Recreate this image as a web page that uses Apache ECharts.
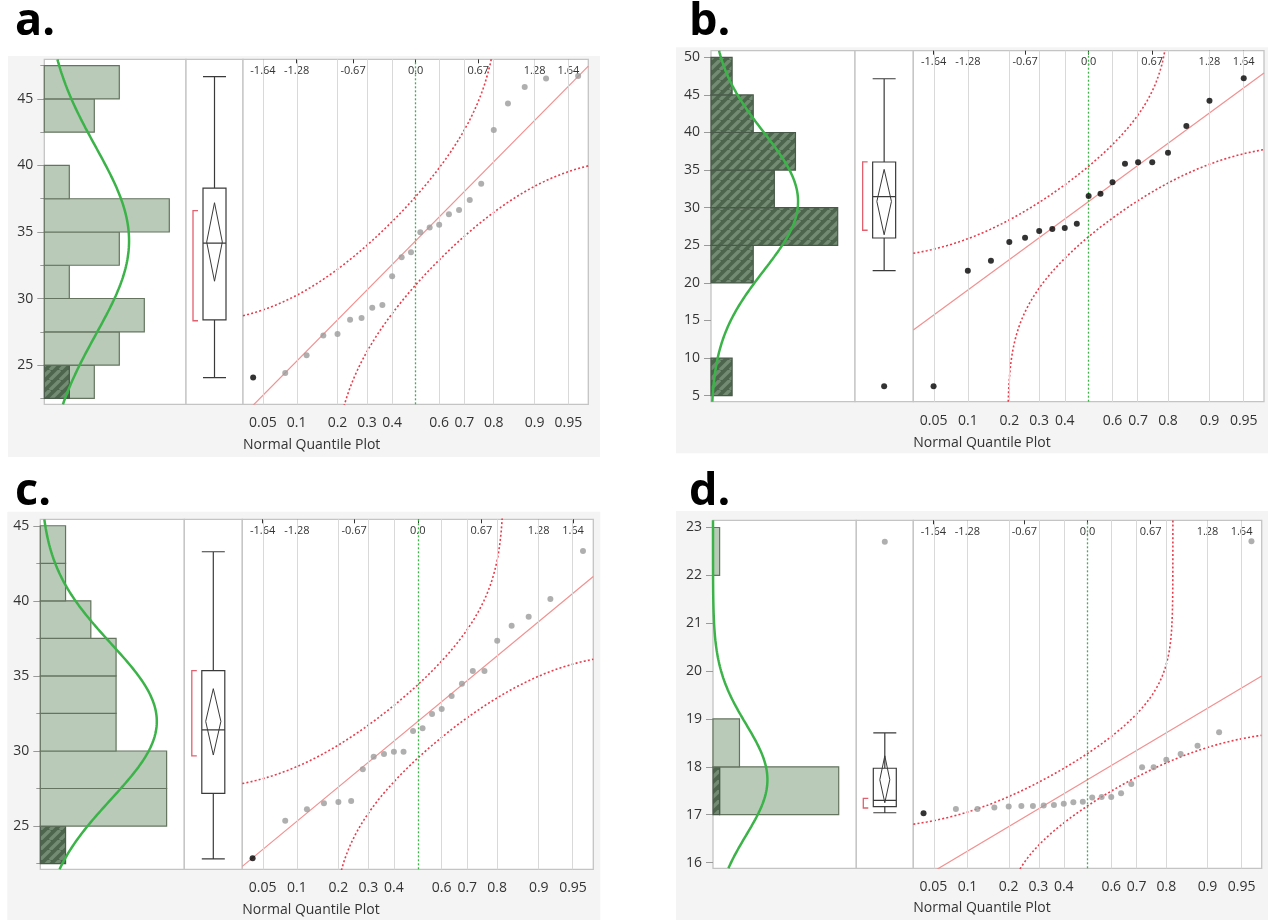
<!DOCTYPE html>
<html>
<head>
<meta charset="utf-8">
<script src="https://cdn.jsdelivr.net/npm/echarts@6/dist/echarts.min.js"></script>
<style>html,body{margin:0;padding:0;background:#fff;}#main{width:1268px;height:920px;}</style>
</head>
<body>
<div id="main"></div>
<script>
// ---------------- DATA ----------------
// shared normal-quantile positions (z) of the ranked points
const qzN24 = [-1.7507,-1.4051,-1.1750,-0.9945,-0.8416,-0.7063,-0.5828,-0.4677,-0.3585,-0.2533,-0.1510,-0.0502,
               0.0502,0.1510,0.2533,0.3585,0.4677,0.5828,0.7063,0.8416,0.9945,1.1750,1.4051,1.7507];
const qzN19 = [-1.6449,-1.2816,-1.0364,-0.8416,-0.6745,-0.5244,-0.3853,-0.2533,-0.1257,0,
               0.1257,0.2533,0.3853,0.5244,0.6745,0.8416,1.0364,1.2816,1.6449];
// bottom probability ticks and their z positions
const probLabels = ['0.05','0.1','0.2','0.3','0.4','0.6','0.7','0.8','0.9','0.95'];
const probZ = [-1.6449,-1.2816,-0.8416,-0.5244,-0.2533,0.2533,0.5244,0.8416,1.2816,1.6449];
// top normal-quantile ticks
const topLabels = ['-1.64','-1.28','-0.67','0.0','0.67','1.28','1.64'];
const topZ = [-1.6449,-1.2816,-0.6745,0,0.6745,1.2816,1.6449];

// panel a
const yRangeA = [22.05, 47.98];
const yTicksA = [25,30,35,40,45];
const yMinorA = [22.5,27.5,32.5,37.5,42.5,47.5];
const binLowA = [22.5,25,27.5,30,32.5,35,37.5,40,42.5,45];
const binWidthA = 2.5;
const binCountA = [2,3,4,1,3,5,1,0,2,3];
const binSelA = [1,0,0,0,0,0,0,0,0,0];
const qyA = [24.07,24.4,25.73,27.23,27.33,28.41,28.53,29.31,29.51,31.67,33.1,33.47,34.98,35.33,35.55,36.33,36.65,37.41,38.63,42.67,44.65,45.9,46.53,46.73];
const qSelA = [1,0,0,0,0,0,0,0,0,0,0,0,0,0,0,0,0,0,0,0,0,0,0,0];
const boxA = [24.05,28.4,34.17,38.3,46.68];
const outlierA = [];
const outlierSelA = [];
const diamondA = [31.3,34.25,37.2];
const bracketA = [28.33,36.6];
const fitA = [34.34,7.06];   // mean, sd
const bandA = 0.181;

// panel b
const yRangeB = [4.2, 50.88];
const yTicksB = [5,10,15,20,25,30,35,40,45,50];
const yMinorB = [];
const binLowB = [5,10,15,20,25,30,35,40,45];
const binWidthB = 5;
const binCountB = [1,0,0,2,6,3,4,2,1];
const binSelB = [1,0,0,2,6,3,4,2,1];
const qyB = [6.25,21.6,22.96,25.44,26.0,26.9,27.17,27.3,27.87,31.56,31.86,33.37,35.85,36.04,36.04,37.3,40.86,44.23,47.2];
const qSelB = [1,1,1,1,1,1,1,1,1,1,1,1,1,1,1,1,1,1,1];
const boxB = [21.62,25.97,31.46,36.08,47.15];
const outlierB = [6.25];
const outlierSelB = [1];
const diamondB = [26.4,30.83,35.1];
const bracketB = [27.0,36.1];
const fitB = [30.83,9.19];
const bandB = 0.195;

// panel c
const yRangeC = [22.12, 45.43];
const yTicksC = [25,30,35,40,45];
const yMinorC = [22.5,27.5,32.5,37.5,42.5];
const binLowC = [22.5,25,27.5,30,32.5,35,37.5,40,42.5];
const binWidthC = 2.5;
const binCountC = [1,5,5,3,3,3,2,1,1];
const binSelC = [1,0,0,0,0,0,0,0,0];
const qyC = [22.86,25.36,26.12,26.52,26.6,26.67,28.78,29.62,29.8,29.95,29.95,31.33,31.51,32.46,32.8,33.66,34.48,35.33,35.33,37.34,38.34,38.94,40.12,43.32];
const qSelC = [1,0,0,0,0,0,0,0,0,0,0,0,0,0,0,0,0,0,0,0,0,0,0,0];
const boxC = [22.81,27.18,31.4,35.35,43.27];
const outlierC = [];
const outlierSelC = [];
const diamondC = [29.73,31.97,34.15];
const bracketC = [29.67,35.35];
const fitC = [31.97,5.19];
const bandC = 0.181;

// panel d
const yRangeD = [15.88, 23.15];
const yTicksD = [16,17,18,19,20,21,22,23];
const yMinorD = [];
const binLowD = [17,18,22];
const binWidthD = 1;
const binCountD = [19,4,1];
const binSelD = [1,0,0];
const qyD = [17.03,17.12,17.12,17.15,17.17,17.18,17.18,17.19,17.2,17.23,17.26,17.27,17.36,17.37,17.37,17.45,17.64,17.99,17.99,18.15,18.27,18.44,18.72,22.71];
const qSelD = [1,0,0,0,0,0,0,0,0,0,0,0,0,0,0,0,0,0,0,0,0,0,0,0];
const boxD = [17.04,17.17,17.30,17.97,18.71];
const outlierD = [22.7];
const outlierSelD = [0];
const diamondD = [17.25,17.73,18.23];
const bracketD = [17.14,17.34];
const fitD = [17.73,1.164];
const bandD = 0.181;

// ---------------- LAYOUT ----------------
const FONT = "'Open Sans', 'Noto Sans', sans-serif";
const Z_MIN = -1.86, Z_MAX = 1.86;
const layouts = {
  a:{bg:[8,56,592,401], top:59.3, height:345, hist:[44.3,141.7], box:[186,57], qq:[243,345.3], histMax:5.668, label:[15,22], nqp:[243,445], dhw:7.8},
  b:{bg:[676,47.3,592,406], top:50.7, height:351, hist:[711,144], box:[855,58.3], qq:[913.3,350.7], histMax:6.82, label:[689,22], nqp:[913.3,442.7], dhw:7.3},
  c:{bg:[7.3,511.7,593,408.3], top:519.3, height:350, hist:[40.3,144], box:[184.3,58], qq:[242.3,351], histMax:5.70, label:[15,492], nqp:[242.3,910], dhw:7.6},
  d:{bg:[676,511,592,409], top:520.3, height:348, hist:[713,143.3], box:[856.3,57], qq:[913.3,348.4], histMax:21.66, label:[689,492], nqp:[913.3,908.3], dhw:5}
};

// ---------------- MATH ----------------
function erf(x){const s=x<0?-1:1;x=Math.abs(x);const t=1/(1+0.3275911*x);
  const y=1-(((((1.061405429*t-1.453152027)*t)+1.421413741)*t-0.284496736)*t+0.254829592)*t*Math.exp(-x*x);return s*y;}
function Phi(z){return 0.5*(1+erf(z/Math.SQRT2));}
function invPhi(p){
  const a=[-3.969683028665376e+01,2.209460984245205e+02,-2.759285104469687e+02,1.383577518672690e+02,-3.066479806614716e+01,2.506628277459239e+00];
  const b=[-5.447609879822406e+01,1.615858368580409e+02,-1.556989798598866e+02,6.680131188771972e+01,-1.328068155288572e+01];
  const c=[-7.784894002430293e-03,-3.223964580411365e-01,-2.400758277161838e+00,-2.549732539343734e+00,4.374664141464968e+00,2.938163982698783e+00];
  const d=[7.784695709041462e-03,3.224671290700398e-01,2.445134137142996e+00,3.754408661907416e+00];
  const pl=0.02425;let q,r;
  if(p<pl){q=Math.sqrt(-2*Math.log(p));return (((((c[0]*q+c[1])*q+c[2])*q+c[3])*q+c[4])*q+c[5])/((((d[0]*q+d[1])*q+d[2])*q+d[3])*q+1);}
  if(p<=1-pl){q=p-0.5;r=q*q;return (((((a[0]*r+a[1])*r+a[2])*r+a[3])*r+a[4])*r+a[5])*q/(((((b[0]*r+b[1])*r+b[2])*r+b[3])*r+b[4])*r+1);}
  q=Math.sqrt(-2*Math.log(1-p));return -(((((c[0]*q+c[1])*q+c[2])*q+c[3])*q+c[4])*q+c[5])/((((d[0]*q+d[1])*q+d[2])*q+d[3])*q+1);
}
// Lilliefors-type band: y = mean + sd * invPhi(Phi(z) +/- d), sampled densely up to its asymptote
function bandCurve(fit, d, sign){
  const out=[]; const lim=2e-3;
  const tails=[1e-9,1e-7,1e-6,1e-5,3e-5,1e-4,2e-4,4e-4,7e-4,1e-3,1.5e-3];
  if(sign<0){
    tails.forEach(t=>{ const z=invPhi(t+d); if(z>=Z_MIN&&z<=Z_MAX) out.push([z, fit[0]+fit[1]*invPhi(t)]); });
  }
  for(let z=Z_MIN; z<=Z_MAX+1e-9; z+=0.004){
    const p=Phi(z)+sign*d;
    if(p<=lim||p>=1-lim) continue;
    out.push([z, fit[0]+fit[1]*invPhi(p)]);
  }
  if(sign>0){
    tails.slice().reverse().forEach(t=>{ const z=invPhi(1-t-d); if(z>=Z_MIN&&z<=Z_MAX) out.push([z, fit[0]+fit[1]*invPhi(1-t)]); });
  }
  out.sort((a,b)=>a[0]-b[0]);
  return out;
}
function densityCurve(fit, n, bw, yr){
  const out=[]; const steps=300;
  for(let i=0;i<=steps;i++){
    const y=yr[0]+(yr[1]-yr[0])*i/steps; const u=(y-fit[0])/fit[1];
    out.push([n*bw*Math.exp(-0.5*u*u)/(fit[1]*Math.sqrt(2*Math.PI)), y]);
  }
  return out;
}
function makeHatch(){
  const c=document.createElement('canvas'); c.width=10; c.height=10;
  const g=c.getContext('2d'); g.fillStyle='#4d654d'; g.fillRect(0,0,10,10);
  g.strokeStyle='#728b72'; g.lineWidth=3.4; g.beginPath();
  for(const o of [-10,0,10]){ g.moveTo(o,10); g.lineTo(o+10,0); }
  g.stroke(); return c;
}
const hatch = {image: makeHatch(), repeat:'repeat'};

// ---------------- OPTION ----------------
const option = {animation:false, backgroundColor:'#fff', grid:[], xAxis:[], yAxis:[], series:[], graphic:[]};
const gridStyle = {show:true, backgroundColor:'#fff', borderColor:'#c4c4c4', borderWidth:1.3, containLabel:false};

function labelFor(vals, labels){ return function(v){ const i=vals.findIndex(z=>Math.abs(z-v)<1e-6); return i>=0?labels[i]:''; }; }

function buildPanel(key, P){
  const L = layouts[key];
  const gi = option.grid.length, xi = option.xAxis.length, yi = option.yAxis.length;
  [L.hist, L.box, L.qq].forEach(g => option.grid.push(Object.assign({left:g[0], top:L.top, width:g[1], height:L.height}, gridStyle)));
  // x axes
  option.xAxis.push({gridIndex:gi, type:'value', min:0, max:L.histMax, show:false});
  option.xAxis.push({gridIndex:gi+1, type:'category', data:['v'], show:false});
  option.xAxis.push({gridIndex:gi+2, type:'value', min:Z_MIN, max:Z_MAX, position:'bottom',
    axisLine:{show:false}, axisTick:{show:false}, splitLine:{show:false},
    axisLabel:{customValues:probZ, formatter:labelFor(probZ, probLabels), margin:12, fontSize:14, color:'#333', fontFamily:FONT}});
  option.xAxis.push({gridIndex:gi+2, type:'value', min:Z_MIN, max:Z_MAX, position:'top',
    axisLine:{show:false}, splitLine:{show:false},
    axisTick:{show:true, customValues:topZ, inside:true, length:4, lineStyle:{color:'#333', width:1}},
    axisLabel:{customValues:topZ, inside:true, formatter:labelFor(topZ, topLabels), margin:6, fontSize:11, color:'#333', fontFamily:FONT}});
  // y axes
  const yr = P.yRange;
  option.yAxis.push({gridIndex:gi, type:'value', position:'left', min:yr[0], max:yr[1], axisLine:{show:false}, splitLine:{show:false},
    axisTick:{show:true, customValues:P.yTicks, length:7, lineStyle:{color:'#9a9a9a'}},
    axisLabel:{customValues:P.yTicks, margin:11, fontSize:14, color:'#333', fontFamily:FONT}});
  option.yAxis.push({gridIndex:gi, type:'value', position:'left', offset:0, min:yr[0], max:yr[1], axisLine:{show:false}, splitLine:{show:false},
    axisTick:{show:P.yMinor.length>0, customValues:P.yMinor.length?P.yMinor:[yr[0]], length:4, lineStyle:{color:'#9a9a9a'}},
    axisLabel:{show:false}});
  option.yAxis.push({gridIndex:gi+1, type:'value', min:yr[0], max:yr[1], show:false});
  option.yAxis.push({gridIndex:gi+2, type:'value', min:yr[0], max:yr[1], show:false});

  // histogram bars
  option.series.push({type:'custom', xAxisIndex:xi, yAxisIndex:yi, z:2, silent:true,
    encode:{x:[2], y:[0,1]},
    data:P.binLow.map((lo,i)=>[lo, lo+P.binWidth, P.binCount[i], P.binSel[i]]),
    renderItem:function(params, api){
      const lo=api.value(0), hi=api.value(1), c=api.value(2), s=api.value(3);
      const ch=[];
      if(c-s>0){ const p0=api.coord([s,lo]), p1=api.coord([c,hi]);
        ch.push({type:'rect', shape:{x:p0[0], y:p1[1], width:p1[0]-p0[0], height:p0[1]-p1[1]}, style:{fill:'#b9cab9', stroke:'#64745f', lineWidth:1.2}}); }
      if(s>0){ const p0=api.coord([0,lo]), p1=api.coord([s,hi]);
        ch.push({type:'rect', shape:{x:p0[0], y:p1[1], width:p1[0]-p0[0], height:p0[1]-p1[1]}, style:{fill:hatch, stroke:'#4a5a4a', lineWidth:1.2}}); }
      return {type:'group', children:ch};
    }});
  // fitted normal density
  const n = P.binCount.reduce((a,b)=>a+b,0);
  option.series.push({type:'line', xAxisIndex:xi, yAxisIndex:yi, z:4, silent:true, symbol:'none', showSymbol:false,
    data:densityCurve(P.fit, n, P.binWidth, yr), lineStyle:{color:'#3cb349', width:2.5}});
  // box plot
  option.series.push({type:'boxplot', xAxisIndex:xi+1, yAxisIndex:yi+2, z:2, silent:true, data:[P.box],
    boxWidth:[23,23], itemStyle:{color:'#fff', borderColor:'#3a3a3a', borderWidth:1.2}});
  // means diamond + shortest-half bracket
  option.series.push({type:'custom', xAxisIndex:xi+1, yAxisIndex:yi+2, z:3, silent:true,
    encode:{x:0, y:[1,2,3,4,5]},
    data:[[0, P.diamond[0], P.diamond[1], P.diamond[2], P.bracket[0], P.bracket[1]]],
    renderItem:function(params, api){
      const pB=api.coord([0,api.value(1)]), pM=api.coord([0,api.value(2)]), pT=api.coord([0,api.value(3)]);
      const q0=api.coord([0,api.value(4)]), q1=api.coord([0,api.value(5)]);
      const cx=pM[0], hw=L.dhw, bx=cx-21.5;
      return {type:'group', children:[
        {type:'polygon', shape:{points:[[cx,pT[1]],[cx+hw,pM[1]],[cx,pB[1]],[cx-hw,pM[1]]]}, style:{fill:'none', stroke:'#3a3a3a', lineWidth:1}},
        {type:'polyline', shape:{points:[[bx+5,q1[1]],[bx,q1[1]],[bx,q0[1]],[bx+5,q0[1]]]}, style:{fill:'none', stroke:'#e2606e', lineWidth:1.3}}
      ]};
    }});
  if(P.outlier.length){
    option.series.push({type:'scatter', xAxisIndex:xi+1, yAxisIndex:yi+2, z:5, silent:true, symbolSize:6,
      data:P.outlier.map((v,i)=>[0, v, P.outlierSel[i]]),
      itemStyle:{color:function(p){return p.data[2]?'#000':'#9b9b9b';}}});
  }
  // quantile plot: fitted line with grid lines as markLines
  const fit = P.fit;
  option.series.push({type:'line', xAxisIndex:xi+2, yAxisIndex:yi+3, z:2, silent:true, symbol:'none', showSymbol:false,
    data:[[Z_MIN, fit[0]+fit[1]*Z_MIN],[Z_MAX, fit[0]+fit[1]*Z_MAX]], lineStyle:{color:'#f29090', width:1.2},
    markLine:{silent:true, symbol:'none', animation:false, label:{show:false},
      lineStyle:{color:'#d9d9d9', width:1, type:'solid'},
      data: probZ.map(z=>({xAxis:z})).concat([{xAxis:0, lineStyle:{color:'#3cb349', width:1.3, type:[2,2]}}])}});
  // confidence bands
  [1,-1].forEach(sign=>{
    option.series.push({type:'line', xAxisIndex:xi+2, yAxisIndex:yi+3, z:3, silent:true, symbol:'none', showSymbol:false, clip:true,
      data:bandCurve(fit, P.band, sign), lineStyle:{color:'#e83c4c', width:1.6, type:[2,2.2]}});
  });
  // points
  option.series.push({type:'scatter', xAxisIndex:xi+2, yAxisIndex:yi+3, z:5, silent:true, symbolSize:6,
    data:P.qz.map((z,i)=>[z, P.qy[i], P.qSel[i]]),
    itemStyle:{color:function(p){return p.data[2]?'#000':'#9b9b9b';}}});

  // panel background, label, axis title
  option.graphic.push({type:'rect', z:-100, silent:true, shape:{x:L.bg[0], y:L.bg[1], width:L.bg[2], height:L.bg[3]}, style:{fill:'#f4f4f4'}});
  option.graphic.push({type:'text', z:100, silent:true, x:L.label[0], y:L.label[1],
    style:{text:key+'.', fontSize:45, fontWeight:'bold', fontFamily:FONT, fill:'#000', verticalAlign:'middle', align:'left'}});
  option.graphic.push({type:'text', z:100, silent:true, x:L.nqp[0], y:L.nqp[1],
    style:{text:'Normal Quantile Plot', fontSize:14, fontFamily:FONT, fill:'#333', verticalAlign:'middle', align:'left'}});
}

buildPanel('a', {yRange:yRangeA, yTicks:yTicksA, yMinor:yMinorA, binLow:binLowA, binWidth:binWidthA, binCount:binCountA, binSel:binSelA,
  qz:qzN24, qy:qyA, qSel:qSelA, box:boxA, outlier:outlierA, outlierSel:outlierSelA, diamond:diamondA, bracket:bracketA, fit:fitA, band:bandA});
buildPanel('b', {yRange:yRangeB, yTicks:yTicksB, yMinor:yMinorB, binLow:binLowB, binWidth:binWidthB, binCount:binCountB, binSel:binSelB,
  qz:qzN19, qy:qyB, qSel:qSelB, box:boxB, outlier:outlierB, outlierSel:outlierSelB, diamond:diamondB, bracket:bracketB, fit:fitB, band:bandB});
buildPanel('c', {yRange:yRangeC, yTicks:yTicksC, yMinor:yMinorC, binLow:binLowC, binWidth:binWidthC, binCount:binCountC, binSel:binSelC,
  qz:qzN24, qy:qyC, qSel:qSelC, box:boxC, outlier:outlierC, outlierSel:outlierSelC, diamond:diamondC, bracket:bracketC, fit:fitC, band:bandC});
buildPanel('d', {yRange:yRangeD, yTicks:yTicksD, yMinor:yMinorD, binLow:binLowD, binWidth:binWidthD, binCount:binCountD, binSel:binSelD,
  qz:qzN24, qy:qyD, qSel:qSelD, box:boxD, outlier:outlierD, outlierSel:outlierSelD, diamond:diamondD, bracket:bracketD, fit:fitD, band:bandD});

const chart = echarts.init(document.getElementById('main'), null, {renderer:'canvas'});
chart.setOption(option);
</script>
</body>
</html>
